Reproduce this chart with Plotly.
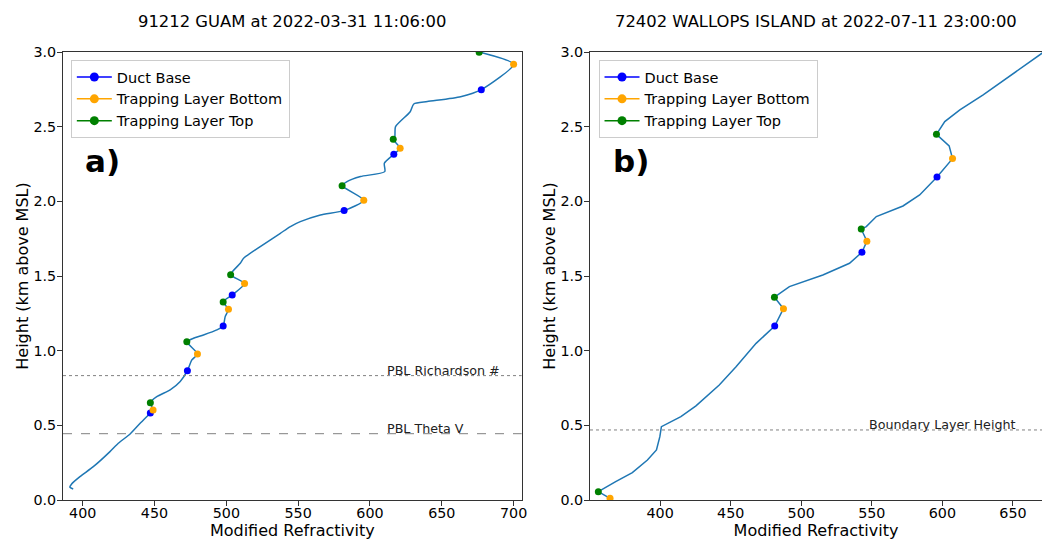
import plotly.graph_objects as go

# ---------------- Panel a) 91212 GUAM ----------------
guam_m = [393.4, 391.1, 392.3, 398.1, 407.4, 419.0, 424.8, 433.0, 440.0, 447.1,
          449.0, 447.1, 451.6, 460.9, 467.9, 472.9, 476.0, 479.9, 472.5, 477.1,
          484.1, 493.4, 497.8, 499.2, 501.5, 497.8, 504.1, 512.7, 503.0, 509.7,
          512.0, 523.6, 537.6, 544.6, 551.5, 565.5, 582.0, 595.7, 580.6, 584.0,
          593.4, 610.3, 610.0, 616.6, 621.0, 616.2, 617.3, 617.8, 628.0, 630.5,
          639.9, 663.1, 677.5, 700.0, 676.0]
guam_h = [0.074, 0.085, 0.107, 0.156, 0.223, 0.324, 0.380, 0.442, 0.514, 0.583,
          0.603, 0.652, 0.692, 0.737, 0.793, 0.866, 0.938, 0.978, 1.060, 1.083,
          1.105, 1.139, 1.165, 1.228, 1.277, 1.326, 1.373, 1.449, 1.509, 1.585,
          1.619, 1.697, 1.786, 1.831, 1.864, 1.909, 1.938, 2.007, 2.105, 2.132,
          2.166, 2.199, 2.255, 2.315, 2.356, 2.415, 2.433, 2.500, 2.600, 2.652,
          2.668, 2.701, 2.748, 2.918, 3.000]

guam_base_m = [677.5, 616.6, 582.0, 504.1, 497.8, 472.9, 447.1]
guam_base_h = [2.748, 2.315, 1.938, 1.373, 1.165, 0.866, 0.583]
guam_bot_m = [700.0, 621.0, 595.7, 512.7, 501.5, 479.9, 449.0]
guam_bot_h = [2.918, 2.356, 2.007, 1.449, 1.277, 0.978, 0.603]
guam_top_m = [676.0, 616.2, 580.6, 503.0, 497.8, 472.5, 447.1]
guam_top_h = [2.998, 2.415, 2.105, 1.509, 1.326, 1.060, 0.652]

guam_pbl_rich = 0.833
guam_pbl_theta = 0.444

# ---------------- Panel b) 72402 WALLOPS ISLAND ----------------
wal_m = [364.5, 356.2, 368.5, 380.3, 391.0, 397.4, 399.8, 400.9, 414.7, 425.4,
         441.9, 453.8, 468.0, 481.2, 487.4, 481.0, 491.6, 515.3, 534.2, 543.0,
         546.5, 542.5, 546.1, 553.2, 572.1, 583.9, 596.2, 607.2, 604.8, 595.8,
         601.7, 612.4, 628.9, 645.5, 670.4, 672.0]
wal_h = [0.011, 0.056, 0.123, 0.183, 0.268, 0.335, 0.424, 0.491, 0.558, 0.630,
         0.770, 0.893, 1.049, 1.165, 1.281, 1.358, 1.429, 1.507, 1.585, 1.659,
         1.733, 1.815, 1.831, 1.898, 1.969, 2.043, 2.163, 2.286, 2.371, 2.449,
         2.534, 2.612, 2.713, 2.824, 2.990, 3.001]

wal_base_m = [596.2, 543.0, 481.2]
wal_base_h = [2.163, 1.659, 1.165]
wal_bot_m = [607.2, 546.5, 487.4, 364.5]
wal_bot_h = [2.286, 1.733, 1.281, 0.011]
wal_top_m = [595.8, 542.5, 481.0, 356.2]
wal_top_h = [2.449, 1.815, 1.358, 0.056]

wal_blh = 0.469

titles = ["91212 GUAM at 2022-03-31 11:06:00", "72402 WALLOPS ISLAND at 2022-07-11 23:00:00"]
legend_names = ["Duct Base", "Trapping Layer Bottom", "Trapping Layer Top"]
marker_colors = ["#0000ff", "#ffa500", "#008000"]

FONT = "DejaVu Sans"
LINE_C = "#1f77b4"

fig = go.Figure()

panels = [
    ("x", "y", "legend", guam_m, guam_h,
     [(guam_base_m, guam_base_h), (guam_bot_m, guam_bot_h), (guam_top_m, guam_top_h)], "spline"),
    ("x2", "y2", "legend2", wal_m, wal_h,
     [(wal_base_m, wal_base_h), (wal_bot_m, wal_bot_h), (wal_top_m, wal_top_h)], "linear"),
]

for xa, ya, lg, mm, hh, pts, shape in panels:
    fig.add_trace(go.Scatter(x=mm, y=hh, mode="lines", xaxis=xa, yaxis=ya,
                             line=dict(color=LINE_C, width=1.5, shape=shape, smoothing=0.6),
                             showlegend=False, hoverinfo="skip"))
    for (px, py), col in zip(pts, marker_colors):
        fig.add_trace(go.Scatter(x=px, y=py, mode="markers", xaxis=xa, yaxis=ya,
                                 marker=dict(color=col, size=7), showlegend=False))
    for name, col in zip(legend_names, marker_colors):
        fig.add_trace(go.Scatter(x=[None], y=[None], mode="lines+markers", xaxis=xa, yaxis=ya,
                                 name=name, legend=lg,
                                 line=dict(color=col, width=1.5),
                                 marker=dict(color=col, size=9)))

# reference lines
shapes = [
    dict(type="line", xref="x domain", yref="y", x0=0, x1=1, y0=guam_pbl_rich, y1=guam_pbl_rich,
         line=dict(color="gray", width=1, dash="dot")),
    dict(type="line", xref="x domain", yref="y", x0=0, x1=1, y0=guam_pbl_theta, y1=guam_pbl_theta,
         line=dict(color="gray", width=1, dash="dash")),
    dict(type="line", xref="x2 domain", yref="y2", x0=0, x1=1, y0=wal_blh, y1=wal_blh,
         line=dict(color="gray", width=1, dash="dot")),
]

ann_font = dict(family=FONT, size=12.7, color="#222")
annotations = [
    dict(x=610.8, y=guam_pbl_rich, xref="x", yref="y", text="PBL Richardson #", showarrow=False,
         xanchor="left", yanchor="middle", yshift=5, font=ann_font),
    dict(x=610.8, y=guam_pbl_theta, xref="x", yref="y", text="PBL Theta V", showarrow=False,
         xanchor="left", yanchor="middle", yshift=5, font=ann_font),
    dict(x=546.8, y=wal_blh, xref="x2", yref="y2", text="Boundary Layer Height", showarrow=False,
         xanchor="left", yanchor="middle", yshift=5, font=ann_font),
    dict(x=0.043, y=0.757, xref="x domain", yref="y domain", text="<b>a)</b>", showarrow=False,
         xanchor="left", yanchor="middle", font=dict(family=FONT, size=31, color="black")),
    dict(x=0.046, y=0.757, xref="x2 domain", yref="y2 domain", text="<b>b)</b>", showarrow=False,
         xanchor="left", yanchor="middle", font=dict(family=FONT, size=31, color="black")),
    dict(x=0.5, y=1.067, xref="x domain", yref="y domain", text=titles[0], showarrow=False,
         xanchor="center", yanchor="middle", font=dict(family=FONT, size=16.4, color="black")),
    dict(x=0.5, y=1.067, xref="x2 domain", yref="y2 domain", text=titles[1], showarrow=False,
         xanchor="center", yanchor="middle", font=dict(family=FONT, size=16.4, color="black")),
]

axis_common = dict(showgrid=False, zeroline=False, showline=True, linecolor="#333", linewidth=1,
                   ticks="outside", ticklen=5, tickcolor="#333", automargin=False,
                   tickfont=dict(family=FONT, size=14.3, color="black"))

fig.update_layout(
    width=1042, height=540,
    margin=dict(l=63, r=0, t=52, b=40),
    paper_bgcolor="white", plot_bgcolor="white",
    font=dict(family=FONT, color="black"),
    xaxis=dict(domain=[0, 0.4685], range=[386.3, 705.6], dtick=50, mirror=True, anchor="y",
               ticklabelstandoff=-5,
               title=dict(text="Modified Refractivity", font=dict(size=16), standoff=4), **axis_common),
    yaxis=dict(domain=[0, 1], range=[0, 3], dtick=0.5, tickformat=".1f", mirror=True, anchor="x",
               ticklabelstandoff=-2,
               title=dict(text="Height (km above MSL)", font=dict(size=16), standoff=0), **axis_common),
    xaxis2=dict(domain=[0.5383, 1.0], range=[350.3, 670.6], dtick=50, mirror=True, anchor="y2",
                ticklabelstandoff=-5,
                title=dict(text="Modified Refractivity", font=dict(size=16), standoff=4), **axis_common),
    yaxis2=dict(domain=[0, 1], range=[0, 3], dtick=0.5, tickformat=".1f", mirror=False, anchor="x2",
                ticklabelstandoff=-2,
                title=dict(text="Height (km above MSL)", font=dict(size=16), standoff=0), **axis_common),
    legend=dict(x=0.008, y=0.982, xanchor="left", yanchor="top", bgcolor="rgba(255,255,255,0.8)",
                bordercolor="#cccccc", borderwidth=1, font=dict(family=FONT, size=14.5), itemwidth=35),
    legend2=dict(x=0.547, y=0.982, xanchor="left", yanchor="top", bgcolor="rgba(255,255,255,0.8)",
                 bordercolor="#cccccc", borderwidth=1, font=dict(family=FONT, size=14.5), itemwidth=35),
    shapes=shapes,
    annotations=annotations,
    showlegend=True,
)

# Remove the browser's default body margin so the figure fills the window exactly.
fig.write_html("out.html",
               config={"displayModeBar": False},
               post_script="document.body.style.margin='0';document.body.style.overflow='hidden';")
